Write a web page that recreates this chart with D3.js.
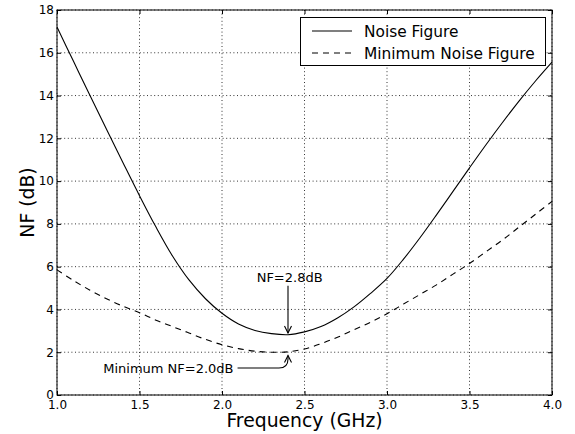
<!DOCTYPE html>
<html>
<head>
<meta charset="utf-8">
<script src="https://cdn.jsdelivr.net/npm/d3@7"></script>
<style>
  html, body { margin: 0; padding: 0; background: #fff; }
  svg { display: block; font-family: "DejaVu Sans", sans-serif; }
</style>
</head>
<body>
<svg id="chart" width="575" height="434"></svg>
<script>
// ---- data ----
const freqGHz = [1.0,1.1,1.2,1.3,1.4,1.5,1.6,1.7,1.8,1.9,2.0,2.1,2.2,2.3,2.4,2.5,2.6,2.7,2.8,2.9,3.0,3.1,3.2,3.3,3.4,3.5,3.6,3.7,3.8,3.9,4.0];
const noiseFigure = [17.2,15.6,14.0,12.42,10.86,9.32,7.85,6.5,5.38,4.5,3.82,3.32,3.02,2.87,2.82,2.95,3.2,3.6,4.12,4.75,5.45,6.35,7.35,8.42,9.52,10.62,11.7,12.74,13.74,14.68,15.56];
const minNoiseFigure = [5.85,5.35,4.9,4.5,4.15,3.85,3.5,3.2,2.9,2.6,2.35,2.17,2.05,2.0,2.02,2.15,2.4,2.7,3.05,3.4,3.8,4.25,4.7,5.15,5.65,6.15,6.7,7.25,7.85,8.45,9.05];
const xTicks = [1.0,1.5,2.0,2.5,3.0,3.5,4.0];
const yTicks = [0,2,4,6,8,10,12,14,16,18];
const seriesNames = ["Noise Figure", "Minimum Noise Figure"];
const xLabel = "Frequency (GHz)";
const yLabel = "NF (dB)";
const annNF = {text: "NF=2.8dB", tip: [2.4, 2.9], textPos: [2.41, 5.3]};
const annMin = {text: "Minimum NF=2.0dB", tip: [2.4, 1.85], textPos: [2.07, 1.03]};

// ---- layout ----
const svg = d3.select("#chart");
const L = 57, R = 552, T = 10, B = 395;
const x = d3.scaleLinear().domain([1, 4]).range([L, R]);
const y = d3.scaleLinear().domain([0, 18]).range([B, T]);

// grid
const grid = svg.append("g");
grid.selectAll(".gx").data(xTicks).join("line")
  .attr("x1", d => x(d)).attr("x2", d => x(d)).attr("y1", T).attr("y2", B)
  .attr("stroke", "#000").attr("stroke-width", 0.8).attr("stroke-dasharray", "1,2.6");
grid.selectAll(".gy").data(yTicks).join("line")
  .attr("y1", d => y(d)).attr("y2", d => y(d)).attr("x1", L).attr("x2", R)
  .attr("stroke", "#000").attr("stroke-width", 0.8).attr("stroke-dasharray", "1,2.6");

// curves
const line = (vals) => d3.line()
  .x((d, i) => x(freqGHz[i])).y(d => y(d))
  .curve(d3.curveCatmullRom.alpha(0.5))(vals);
svg.append("path").attr("d", line(noiseFigure))
  .attr("fill", "none").attr("stroke", "#000").attr("stroke-width", 1.1);
svg.append("path").attr("d", line(minNoiseFigure))
  .attr("fill", "none").attr("stroke", "#000").attr("stroke-width", 1.1)
  .attr("stroke-dasharray", "6,5");

// axes (inward ticks)
const fmtX = d3.format(".1f");
const axB = svg.append("g").attr("transform", `translate(0,${B})`)
  .call(d3.axisBottom(x).tickValues(xTicks).tickFormat(fmtX).tickSizeInner(-4).tickSizeOuter(0).tickPadding(5));
const axT = svg.append("g").attr("transform", `translate(0,${T})`)
  .call(d3.axisTop(x).tickValues(xTicks).tickFormat("").tickSizeInner(-4).tickSizeOuter(0));
const axLft = svg.append("g").attr("transform", `translate(${L},0)`)
  .call(d3.axisLeft(y).tickValues(yTicks).tickFormat(d3.format("d")).tickSizeInner(-4).tickSizeOuter(0).tickPadding(3));
const axRt = svg.append("g").attr("transform", `translate(${R},0)`)
  .call(d3.axisRight(y).tickValues(yTicks).tickFormat("").tickSizeInner(-4).tickSizeOuter(0));
[axB, axT, axLft, axRt].forEach(g => {
  g.select(".domain").remove();
  g.selectAll("line").attr("stroke", "#000");
  g.selectAll("text").attr("font-family", "DejaVu Sans").attr("font-size", 12).attr("fill", "#000");
});

// frame
svg.append("rect").attr("x", L).attr("y", T).attr("width", R - L).attr("height", B - T)
  .attr("fill", "none").attr("stroke", "#000").attr("stroke-width", 1);

// axis labels
svg.append("text").attr("x", (L + R) / 2).attr("y", 427).attr("text-anchor", "middle")
  .attr("font-size", 18.8).text(xLabel);
svg.append("text").attr("transform", `translate(34,${(T + B) / 2}) rotate(-90)`)
  .attr("text-anchor", "middle").attr("font-size", 18.8).text(yLabel);

// legend
const lg = svg.append("g");
lg.append("rect").attr("x", 300.5).attr("y", 17.5).attr("width", 245).attr("height", 48)
  .attr("fill", "#fff").attr("stroke", "#000").attr("stroke-width", 1);
const legY = [31, 53];
lg.append("line").attr("x1", 312).attr("x2", 352).attr("y1", legY[0]).attr("y2", legY[0])
  .attr("stroke", "#000").attr("stroke-width", 1.1);
lg.append("line").attr("x1", 312).attr("x2", 352).attr("y1", legY[1]).attr("y2", legY[1])
  .attr("stroke", "#000").attr("stroke-width", 1.1).attr("stroke-dasharray", "6,5");
seriesNames.forEach((n, i) => {
  lg.append("text").attr("x", 364).attr("y", legY[i] + 5.5).attr("font-size", 15.4).text(n);
});

// annotations
function arrowHead(g, tx, ty, dir) {
  g.append("path")
    .attr("d", `M${tx - 3.5},${ty - dir * 7} L${tx},${ty} L${tx + 3.5},${ty - dir * 7}`)
    .attr("fill", "none").attr("stroke", "#000").attr("stroke-width", 1.1);
}
const ann = svg.append("g");
ann.append("text").attr("x", x(annNF.textPos[0])).attr("y", y(annNF.textPos[1]))
  .attr("text-anchor", "middle").attr("font-size", 13).text(annNF.text);
const nfTx = x(annNF.tip[0]), nfTy = y(annNF.tip[1]);
ann.append("line").attr("x1", nfTx).attr("x2", nfTx).attr("y1", y(annNF.textPos[1]) + 4).attr("y2", nfTy)
  .attr("stroke", "#000").attr("stroke-width", 1.1);
arrowHead(ann, nfTx, nfTy, 1);

ann.append("text").attr("x", x(annMin.textPos[0])).attr("y", y(annMin.textPos[1]))
  .attr("text-anchor", "end").attr("font-size", 13).text(annMin.text);
const mTx = x(annMin.tip[0]), mTy = y(annMin.tip[1]);
const lineY = y(annMin.textPos[1]) - 5;
const startX = x(annMin.textPos[0]) + 4;
ann.append("path")
  .attr("d", `M${startX},${lineY} L${mTx - 9},${lineY} Q${mTx},${lineY} ${mTx},${lineY - 9} L${mTx},${mTy}`)
  .attr("fill", "none").attr("stroke", "#000").attr("stroke-width", 1.1);
arrowHead(ann, mTx, mTy, -1);
</script>
</body>
</html>
